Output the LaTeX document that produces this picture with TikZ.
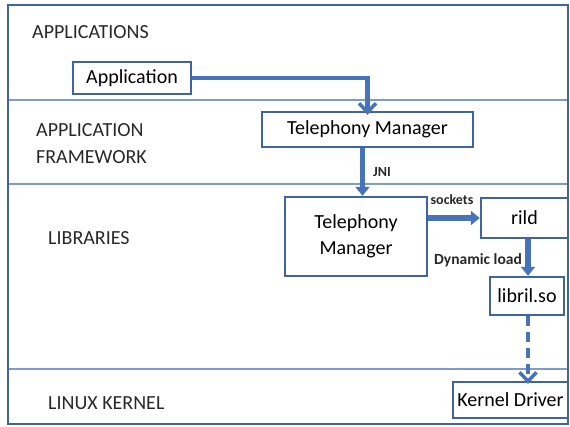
\documentclass[tikz,border=0pt]{standalone}
\usepackage{fontspec}
\setmainfont{Carlito}
\usetikzlibrary{arrows.meta}
\definecolor{frameblue}{RGB}{62,100,165}
\definecolor{arrowblue}{RGB}{70,115,185}
\definecolor{sepblue}{RGB}{125,155,205}
\definecolor{labelgray}{RGB}{40,40,40}
\tikzset{
  box/.style={draw=frameblue, line width=2.4pt, rectangle, inner sep=0pt, font=\fontsize{20}{24}\selectfont, text=black},
  layer/.style={anchor=west, font=\fontsize{20}{24}\selectfont, text=labelgray, inner sep=0pt},
  small/.style={font=\bfseries\fontsize{14}{16}\selectfont, text=labelgray, inner sep=1pt},
  conn/.style={draw=arrowblue, line width=4.5pt},
  barb/.style={-{Straight Barb[length=9pt,width=17pt,line width=3.5pt]}},
  tri/.style={-{Triangle[length=9pt,width=14pt]}},
}
\begin{document}
\begin{tikzpicture}[x=1pt,y=-1pt]
\useasboundingbox (0,0) rectangle (570,426);
% layer separators
\draw[sepblue, line width=1.3pt] (8,100) -- (568,100);
\draw[sepblue, line width=1.3pt] (8,184) -- (568,184);
\draw[sepblue, line width=1.3pt] (8,369) -- (568,369);
% outer frame
\draw[frameblue, line width=2.5pt] (8,5) rectangle (568,424);
% layer labels
\node[layer] (lapps) at (32,32) {APPLICATIONS};
\node[layer, align=left] (lfw) at (36,144) {APPLICATION\\[3pt]FRAMEWORK};
\node[layer] (llib) at (48,238) {LIBRARIES};
\node[layer] (lkern) at (48,403) {LINUX KERNEL};
% boxes
\node[box, minimum width=118pt, minimum height=32pt] (app) at (132,78) {Application};
\node[box, minimum width=211pt, minimum height=35pt] (tmf) at (367.5,129.5) {Telephony Manager};
\node[box, minimum width=142pt, minimum height=79pt, align=center] (tml) at (356,236.5) {Telephony\\[2pt]Manager};
\node[box, minimum width=87pt, minimum height=40pt] (rild) at (524.5,218) {\raisebox{-4pt}{rild}};
\node[box, minimum width=74pt, minimum height=38pt] (libril) at (527,296) {libril.so};
\node[box, minimum width=115pt, minimum height=36pt] (kd) at (510.5,400) {Kernel Driver};
% connectors
\draw[conn, barb] (app.east) -| ([yshift=-4pt]tmf.north);
\draw[conn, tri] ([xshift=-5pt]tmf.south) -- ([xshift=-5pt]tmf.south |- tml.north);
\node[small, anchor=west] (jni) at (372,172) {JNI};
\draw[conn, line width=6pt, tri] (tml.east |- rild.west) -- (rild.west);
\node[small] (sock) at (452,200) {sockets};
\draw[conn, line width=5.5pt, tri] ([xshift=1pt]libril.north |- rild.south) -- ([xshift=1pt]libril.north);
\node[small, anchor=east, font=\bfseries\fontsize{15.5}{17}\selectfont] (dyn) at (523,260) {Dynamic load};
\draw[conn, dashed, dash pattern=on 10pt off 6pt, barb] ([xshift=1pt]libril.south) -- ([xshift=1pt,yshift=-3pt]libril.south |- kd.north);
\end{tikzpicture}
\end{document}
